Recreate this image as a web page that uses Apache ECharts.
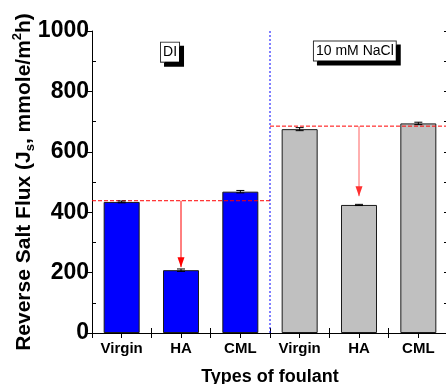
<!DOCTYPE html>
<html>
<head>
<meta charset="utf-8">
<script src="https://cdn.jsdelivr.net/npm/echarts@6/dist/echarts.min.js"></script>
<style>
html,body{margin:0;padding:0;background:#fff;}
#chart{width:446px;height:384px;}
</style>
</head>
<body>
<div id="chart"></div>
<script>
const categories = ['Virgin', 'HA', 'CML', 'Virgin', 'HA', 'CML'];
const fluxValues = [434, 208, 468, 675, 424, 694];
const fluxErrors = [3, 4, 4, 5, 2, 4];
const groupNames = ['DI', '10 mM NaCl'];
const groupColors = ['#0000ff', '#c0c0c0'];
const baselines = [438, 685];
const arrowEnds = [218, 453];
const yTickLabels = [0, 200, 400, 600, 800, 1000];

const FONT = 'Liberation Sans, Arial, Helvetica, sans-serif';

const chart = echarts.init(document.getElementById('chart'), null, {renderer: 'canvas'});

const barData = fluxValues.map((v, i) => ({
  value: v,
  itemStyle: {color: groupColors[i < 3 ? 0 : 1]}
}));
const errData = fluxValues.map((v, i) => [i, v - fluxErrors[i], v + fluxErrors[i]]);

function overlayLine(data, color, type) {
  return {
    type: 'line', xAxisIndex: 1, yAxisIndex: 0, z: 4,
    data: data, showSymbol: false, symbol: 'none', silent: true,
    lineStyle: {color: color, type: type, width: 1},
    itemStyle: {color: color}
  };
}
function arrowHead(point, color) {
  return {
    type: 'scatter', xAxisIndex: 1, yAxisIndex: 0, z: 5, silent: true,
    data: [point],
    symbol: 'path://M0,0 L8,0 L4,10 Z', symbolSize: [7, 10], symbolOffset: [0, -5],
    itemStyle: {color: color, opacity: 1}
  };
}

const option = {
  animation: false,
  backgroundColor: '#fff',
  grid: {left: 92, top: 31, right: -2, bottom: 51, containLabel: false, outerBoundsMode: 'none'},
  xAxis: [
    {
      type: 'category', data: categories, position: 'bottom',
      axisLine: {lineStyle: {color: '#000', width: 1}},
      axisTick: {alignWithLabel: true, length: 6, lineStyle: {color: '#000'}},
      axisLabel: {color: '#000', fontFamily: FONT, fontWeight: 'bold', fontSize: 15, margin: 8},
      name: 'Types of foulant', nameLocation: 'middle', nameGap: 35,
      nameTextStyle: {color: '#000', fontFamily: FONT, fontWeight: 'bold', fontSize: 18},
      splitLine: {show: false}
    },
    {
      type: 'value', position: 'top', min: 0, max: 6, interval: 0.5,
      axisLine: {show: true, lineStyle: {color: '#000', width: 1}},
      axisTick: {show: true, inside: true, length: 5, lineStyle: {color: '#000'}},
      axisLabel: {show: false}, splitLine: {show: false}
    },
    {
      type: 'value', position: 'bottom', min: 0, max: 6, interval: 1,
      axisLine: {show: false},
      axisTick: {show: true, inside: true, length: 5, lineStyle: {color: '#000'}},
      axisLabel: {show: false}, splitLine: {show: false}
    }
  ],
  yAxis: [
    {
      type: 'value', position: 'left', min: 0, max: 1000, interval: 200,
      axisLine: {show: true, lineStyle: {color: '#000', width: 1}},
      axisTick: {show: true, length: 6, lineStyle: {color: '#000'}},
      axisLabel: {color: '#000', fontFamily: FONT, fontWeight: 'bold', fontSize: 23, margin: 3,
        customValues: yTickLabels, formatter: v => String(v)},
      splitLine: {show: false},
      name: '{b|Reverse Salt Flux (J}{sub|s}{b|, mmole/m}{sup|2}{b|h)}',
      nameLocation: 'middle', nameRotate: 90, nameGap: 55, nameMoveOverlap: false,
      nameTextStyle: {
        color: '#000', fontFamily: FONT, fontWeight: 'bold', fontSize: 21,
        rich: {
          b: {fontFamily: FONT, fontWeight: 'bold', fontSize: 21, color: '#000', lineHeight: 26, verticalAlign: 'middle'},
          sub: {fontFamily: FONT, fontWeight: 'bold', fontSize: 13, color: '#000', lineHeight: 26, verticalAlign: 'bottom'},
          sup: {fontFamily: FONT, fontWeight: 'bold', fontSize: 13, color: '#000', lineHeight: 26, verticalAlign: 'top'}
        }
      }
    },
    {
      type: 'value', position: 'left', min: 0, max: 1000,
      axisLine: {show: false},
      axisTick: {show: true, inside: true, length: 4, customValues: [100, 300, 500, 700, 900], lineStyle: {color: '#000'}},
      axisLabel: {show: false}, splitLine: {show: false}
    },
    {
      type: 'value', position: 'right', min: 0, max: 1000, interval: 100,
      axisLine: {show: true, lineStyle: {color: '#000'}},
      axisTick: {show: true, inside: true, length: 4, lineStyle: {color: '#000'}},
      axisLabel: {show: false}, splitLine: {show: false}
    }
  ],
  series: [
    {
      type: 'bar', xAxisIndex: 0, yAxisIndex: 0, barWidth: 36,
      data: barData,
      itemStyle: {borderColor: '#1a1a1a', borderWidth: 1},
      z: 2
    },
    {
      type: 'custom', xAxisIndex: 0, yAxisIndex: 0, z: 5,
      data: errData,
      renderItem: function (params, api) {
        const lo = api.coord([api.value(0), api.value(1)]);
        const hi = api.coord([api.value(0), api.value(2)]);
        const w = 4;
        const st = {stroke: '#000', lineWidth: 1};
        return {
          type: 'group',
          children: [
            {type: 'line', shape: {x1: hi[0], y1: hi[1], x2: lo[0], y2: lo[1]}, style: st},
            {type: 'line', shape: {x1: hi[0] - w, y1: hi[1], x2: hi[0] + w, y2: hi[1]}, style: st},
            {type: 'line', shape: {x1: lo[0] - w, y1: lo[1], x2: lo[0] + w, y2: lo[1]}, style: st}
          ]
        };
      }
    },
    overlayLine([[0, baselines[0]], [3, baselines[0]]], '#ff0000', [4, 2]),
    overlayLine([[3, baselines[1]], [6, baselines[1]]], '#ff0000', [4, 2]),
    overlayLine([[3, 0], [3, 1000]], '#0000ff', [2, 2]),
    overlayLine([[1.5, baselines[0]], [1.5, arrowEnds[0]]], '#ff0000', 'solid'),
    overlayLine([[4.5, baselines[1]], [4.5, arrowEnds[1]]], '#ff6060', 'solid'),
    arrowHead([1.5, arrowEnds[0]], '#ff0000'),
    arrowHead([4.5, arrowEnds[1]], '#ff3030'),
    {
      type: 'scatter', xAxisIndex: 1, yAxisIndex: 0, symbolSize: 0, z: 6, silent: true,
      data: [[1.315, 930, groupNames[0]], [4.43, 934, groupNames[1]]],
      itemStyle: {opacity: 1},
      label: {
        show: true, position: 'inside',
        formatter: p => p.value[2],
        color: '#000', fontFamily: FONT, fontSize: 14, opacity: 1,
        backgroundColor: '#ffffff', borderColor: '#333', borderWidth: 1,
        padding: [3, 2, 2, 2],
        shadowColor: '#000', shadowBlur: 0, shadowOffsetX: 4, shadowOffsetY: 4
      }
    }
  ]
};
chart.setOption(option);
</script>
</body>
</html>
